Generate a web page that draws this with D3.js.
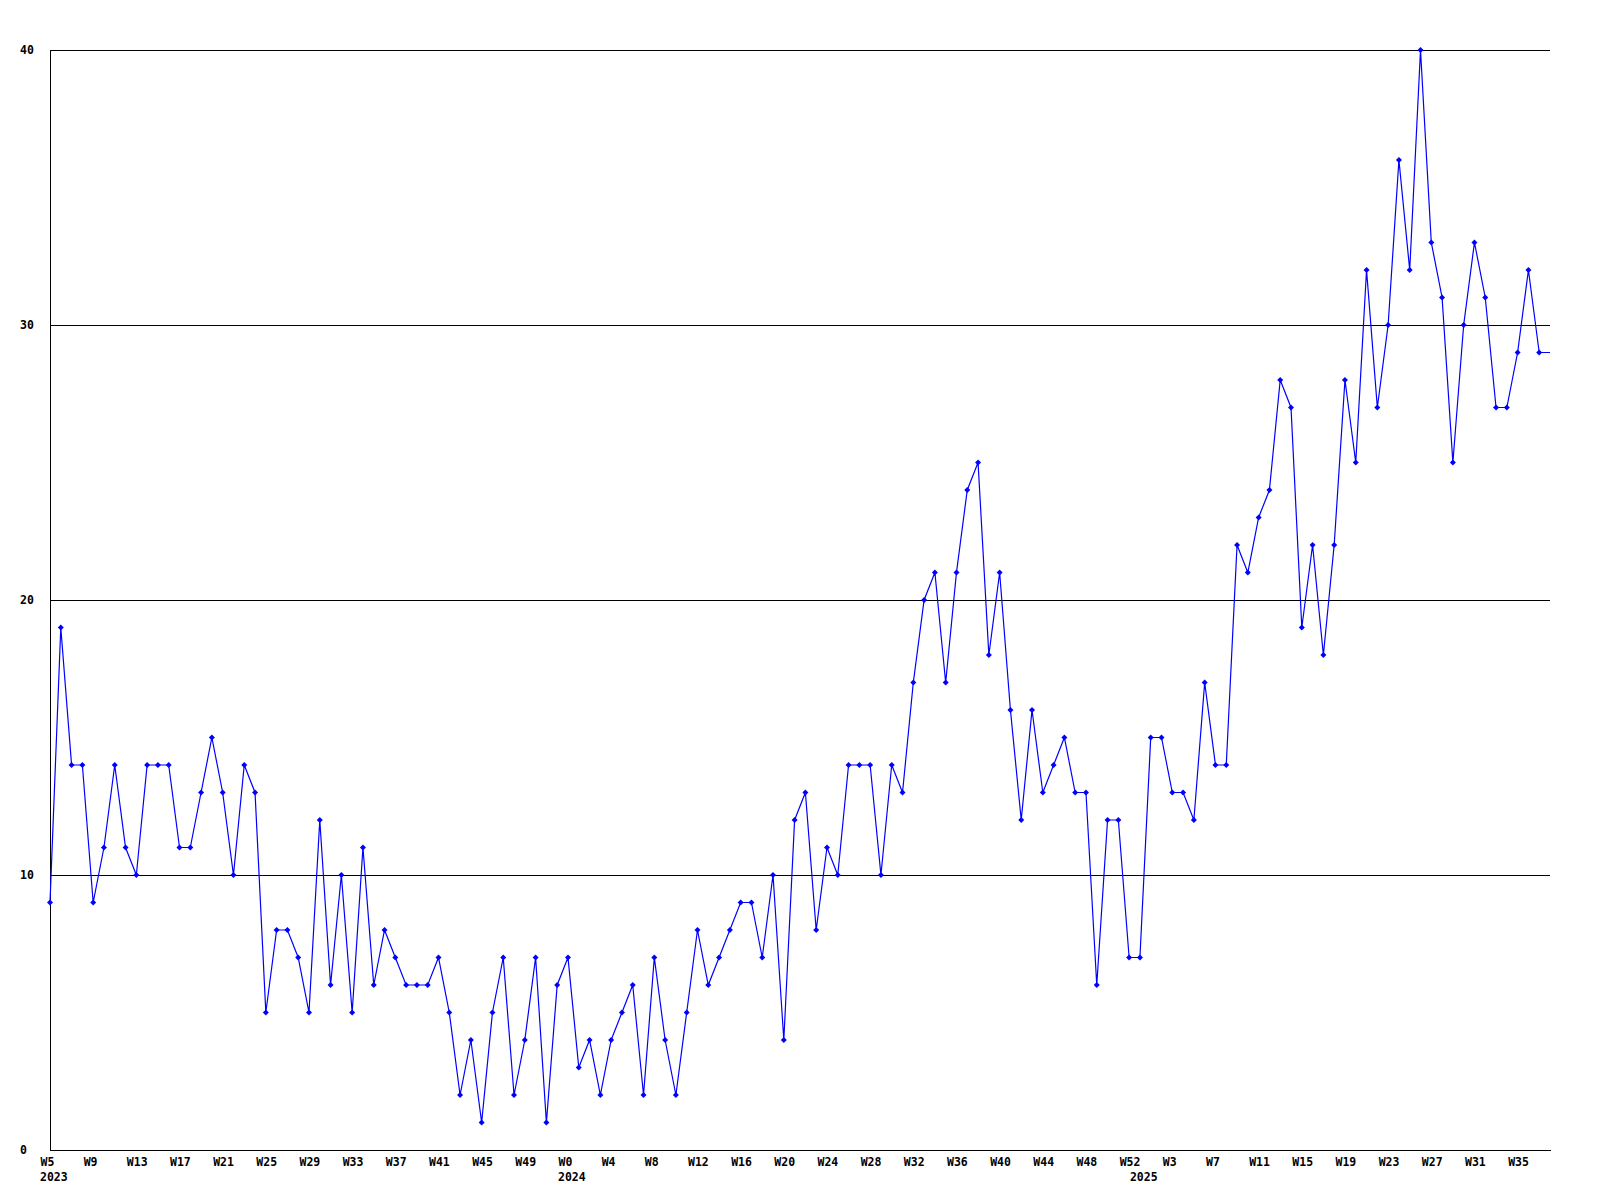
<!DOCTYPE html>
<html>
<head>
<meta charset="utf-8">
<script src="https://cdn.jsdelivr.net/npm/d3@7/dist/d3.min.js"></script>
<style>
  html, body { margin: 0; padding: 0; background: #ffffff; }
  svg { display: block; }
  text { font-family: "DejaVu Sans Mono", "Liberation Mono", monospace; font-weight: bold; font-size: 11.5px; fill: #000; }
</style>
</head>
<body>
<svg id="chart" width="1600" height="1200"></svg>
<script>
// Weekly values, one per week from W5 2023 (the last value sits on the right edge)
const values = [
  9, 19, 14, 14, 9, 11, 14, 11, 10, 14, 14, 14, 11, 11, 13, 15, 13, 10, 14, 13,
  5, 8, 8, 7, 5, 12,
  6, 10, 5, 11, 6, 8, 7, 6, 6, 6, 7, 5, 2, 4, 1, 5, 7, 2, 4, 7, 1, 6, 7, 3, 4, 2, 4, 5,
  6, 2, 7, 4, 2, 5, 8, 6, 7, 8, 9, 9, 7, 10, 4, 12, 13, 8, 11, 10, 14, 14, 14,
  10, 14, 13, 17, 20, 21, 17, 21, 24, 25, 18, 21, 16, 12, 16, 13, 14, 15, 13, 13, 6, 12, 12, 7, 7, 15, 15, 13,
  13, 12, 17, 14, 14, 22, 21, 23, 24, 28, 27, 19, 22, 18, 22, 28,
  25, 32, 27, 30, 36, 32, 40, 33, 31, 25, 30, 33, 31, 27, 27, 29, 32, 29,
  29
];

// Week tick labels, every 4 weeks starting at index 0
const weekLabels = [
  "W5", "W9", "W13", "W17", "W21", "W25", "W29", "W33", "W37", "W41", "W45", "W49",
  "W0", "W4", "W8", "W12", "W16", "W20", "W24", "W28", "W32", "W36", "W40", "W44", "W48", "W52",
  "W3", "W7", "W11", "W15", "W19", "W23", "W27", "W31", "W35"
];
const weekTickIndex = weekLabels.map((_, k) => k * 4);

// Year labels and the week index where each year begins
const yearLabels = ["2023", "2024", "2025"];
const yearIndex = [0, 48, 101];

// Y axis ticks
const yTicks = [0, 10, 20, 30, 40];

const svg = d3.select("#chart");
const mLeft = 50, mRight = 1550, mTop = 50, mBottom = 1150;

const x = d3.scaleLinear().domain([0, values.length - 1]).range([mLeft, mRight]);
const y = d3.scaleLinear().domain([0, 40]).range([mBottom, mTop]);

// Y axis with grid lines
const yAxis = svg.append("g")
  .attr("transform", `translate(${mLeft},0)`)
  .call(d3.axisLeft(y).tickValues(yTicks).tickSize(-(mRight - mLeft)).tickSizeOuter(0).tickFormat(d3.format("d")));
yAxis.attr("font-family", null).attr("font-size", null);
yAxis.selectAll(".tick line").attr("stroke", "#000").attr("shape-rendering", "crispEdges");
yAxis.select(".domain").attr("stroke", "#000").attr("shape-rendering", "crispEdges");
yAxis.selectAll(".tick text")
  .attr("x", 20 - mLeft)
  .attr("dy", "0.32em")
  .attr("text-anchor", "start");

// X axis
const xAxis = svg.append("g")
  .attr("transform", `translate(0,${mBottom})`)
  .call(d3.axisBottom(x).tickValues(weekTickIndex).tickSize(0).tickSizeOuter(0)
    .tickFormat((d, k) => weekLabels[k]));
xAxis.attr("font-family", null).attr("font-size", null);
xAxis.select(".domain").attr("stroke", "#000").attr("shape-rendering", "crispEdges");
xAxis.selectAll(".tick text")
  .attr("x", -10)
  .attr("y", 16)
  .attr("dy", null)
  .attr("text-anchor", "start");

// Year labels
svg.append("g").selectAll("text")
  .data(yearLabels)
  .join("text")
  .attr("x", (d, k) => x(yearIndex[k]) - 10)
  .attr("y", mBottom + 31)
  .attr("text-anchor", "start")
  .text(d => d);

// Data line
const line = d3.line().x((d, i) => x(i)).y(d => y(d));
svg.append("path")
  .datum(values)
  .attr("d", line)
  .attr("fill", "none")
  .attr("stroke", "#0000ff")
  .attr("stroke-width", 1.2);

// Markers (not on the edge value)
const marker = d3.symbol().type(d3.symbolSquare).size(18);
svg.append("g").selectAll("path")
  .data(values.slice(0, values.length - 1))
  .join("path")
  .attr("d", marker)
  .attr("transform", (d, i) => `translate(${x(i)},${y(d)}) rotate(45)`)
  .attr("fill", "#0000ff");
</script>
</body>
</html>
